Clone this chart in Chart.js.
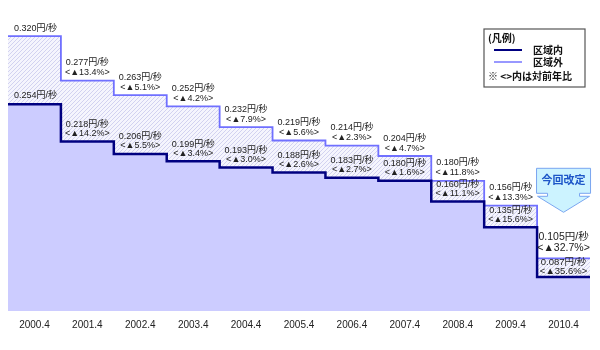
<!DOCTYPE html>
<html>
<head>
<meta charset="utf-8">
<script src="https://cdn.jsdelivr.net/npm/chart.js@4"></script>
<style>
  body { margin: 0; background: #fff; }
  #wrap { width: 600px; height: 350px; }
</style>
</head>
<body>
<div id="wrap"><canvas id="myChart"></canvas></div>
<script>
// 年度 (4月改定)
const years = ['2000.4', '2001.4', '2002.4', '2003.4', '2004.4', '2005.4', '2006.4', '2007.4', '2008.4', '2009.4', '2010.4'];
// 区域外 円/秒
const outsideVals = [0.320, 0.277, 0.263, 0.252, 0.232, 0.219, 0.214, 0.204, 0.180, 0.156, 0.105];
const outsideChg = [null, 13.4, 5.1, 4.2, 7.9, 5.6, 2.3, 4.7, 11.8, 13.3, 32.7];
// 区域内 円/秒
const insideVals = [0.254, 0.218, 0.206, 0.199, 0.193, 0.188, 0.183, 0.180, 0.160, 0.135, 0.087];
const insideChg = [null, 14.2, 5.5, 3.4, 3.0, 2.6, 2.7, 1.6, 11.1, 15.6, 35.6];

const FONT = '"Liberation Sans", "Noto Sans CJK JP", sans-serif';

// step data: one point per year plus a closing point at the right edge
function steps(vals) {
    const pts = vals.map((v, i) => ({ x: i, y: v }));
    pts.push({ x: vals.length, y: vals[vals.length - 1] });
    return pts;
}

// hatch pattern for the area between the two lines
function hatch() {
    const c = document.createElement('canvas');
    c.width = 4; c.height = 4;
    const g = c.getContext('2d');
    g.fillStyle = '#f5f5fd';
    g.fillRect(0, 0, 4, 4);
    g.strokeStyle = '#d2d2f0';
    g.lineWidth = 1;
    g.beginPath();
    g.moveTo(0, 4); g.lineTo(4, 0);
    g.moveTo(-1, 1); g.lineTo(1, -1);
    g.moveTo(3, 5); g.lineTo(5, 3);
    g.stroke();
    return g.createPattern(c, 'repeat');
}

const labelPlugin = {
    id: 'stepLabels',
    afterDatasetsDraw(chart) {
        const ctx = chart.ctx;
        const xs = chart.scales.x, ys = chart.scales.y;
        ctx.save();
        ctx.fillStyle = '#222';
        ctx.textBaseline = 'middle';
        for (let i = 0; i < years.length; i++) {
            const cx = xs.getPixelForValue(i + 0.5);
            const yo = ys.getPixelForValue(outsideVals[i]);
            const yi = ys.getPixelForValue(insideVals[i]);
            if (i === 0) {
                ctx.font = '9px ' + FONT;
                ctx.textAlign = 'left';
                const lx = xs.getPixelForValue(0) + 6;
                ctx.fillText(outsideVals[i].toFixed(3) + '円/秒', lx, yo - 8);
                ctx.fillText(insideVals[i].toFixed(3) + '円/秒', lx, yi - 9);
                continue;
            }
            ctx.textAlign = 'center';
            if (i === years.length - 1) {
                ctx.font = '10.5px ' + FONT;
                ctx.fillText(outsideVals[i].toFixed(3) + '円/秒', cx, yo - 21);
                ctx.fillText('<▲' + outsideChg[i].toFixed(1) + '%>', cx, yo - 10);
                ctx.font = '9.5px ' + FONT;
                ctx.fillText(insideVals[i].toFixed(3) + '円/秒', cx, yi - 15);
                ctx.fillText('<▲' + insideChg[i].toFixed(1) + '%>', cx, yi - 6);
            } else {
                ctx.font = '9px ' + FONT;
                ctx.fillText(outsideVals[i].toFixed(3) + '円/秒', cx, yo - 18);
                ctx.fillText('<▲' + outsideChg[i].toFixed(1) + '%>', cx, yo - 8);
                ctx.fillText(insideVals[i].toFixed(3) + '円/秒', cx, yi - 17);
                ctx.fillText('<▲' + insideChg[i].toFixed(1) + '%>', cx, yi - 8);
            }
        }

        // 今回改定 callout arrow over the last step
        const last = years.length - 1;
        const ax = xs.getPixelForValue(last + 0.5);
        const ay = ys.getPixelForValue(outsideVals[last]);
        const tip = ay - 46;
        ctx.beginPath();
        ctx.moveTo(ax - 27, tip - 44);
        ctx.lineTo(ax + 27, tip - 44);
        ctx.lineTo(ax + 27, tip - 19);
        ctx.lineTo(ax + 16, tip - 19);
        ctx.lineTo(ax + 16, tip - 16);
        ctx.lineTo(ax + 26, tip - 16);
        ctx.lineTo(ax, tip);
        ctx.lineTo(ax - 26, tip - 16);
        ctx.lineTo(ax - 16, tip - 16);
        ctx.lineTo(ax - 16, tip - 19);
        ctx.lineTo(ax - 27, tip - 19);
        ctx.closePath();
        ctx.fillStyle = '#ccf3ff';
        ctx.fill();
        ctx.strokeStyle = '#7aa6f0';
        ctx.lineWidth = 1;
        ctx.stroke();
        ctx.fillStyle = '#1d56c8';
        ctx.font = 'bold 11px "Noto Sans CJK JP", sans-serif';
        ctx.textAlign = 'center';
        ctx.fillText('今回改定', ax, tip - 32);

        // legend box
        const bx = 484, by = 29, bw = 101, bh = 58;
        ctx.fillStyle = '#fff';
        ctx.fillRect(bx, by, bw, bh);
        ctx.strokeStyle = '#555';
        ctx.lineWidth = 1.2;
        ctx.strokeRect(bx, by, bw, bh);
        ctx.fillStyle = '#111';
        ctx.font = 'bold 10px "Noto Sans CJK JP", sans-serif';
        ctx.textAlign = 'left';
        ctx.fillText('(凡例)', bx + 4, by + 9);
        ctx.lineWidth = 2;
        ctx.strokeStyle = '#000080';
        ctx.beginPath(); ctx.moveTo(bx + 10, by + 21); ctx.lineTo(bx + 38, by + 21); ctx.stroke();
        ctx.lineWidth = 1.5;
        ctx.strokeStyle = '#7676ff';
        ctx.beginPath(); ctx.moveTo(bx + 10, by + 33); ctx.lineTo(bx + 38, by + 33); ctx.stroke();
        ctx.fillText('区域内', bx + 49, by + 21);
        ctx.fillText('区域外', bx + 49, by + 33);
        ctx.fillText('※ <>内は対前年比', bx + 4, by + 47);
        ctx.restore();
    }
};

const ctx = document.getElementById('myChart');
const myChart = new Chart(ctx, {
    type: 'line',
    data: {
        datasets: [{
            label: '区域内',
            data: steps(insideVals),
            stepped: true,
            borderColor: '#000080',
            borderWidth: 2.5,
            backgroundColor: '#ccccff',
            fill: 'start',
            pointRadius: 0
        }, {
            label: '区域外',
            data: steps(outsideVals),
            stepped: true,
            borderColor: '#7070ff',
            borderWidth: 1.8,
            backgroundColor: hatch(),
            fill: '-1',
            pointRadius: 0
        }]
    },
    options: {
        responsive: true,
        maintainAspectRatio: false,
        animation: false,
        layout: { padding: { left: 8, right: 10, top: 0, bottom: 0 } },
        plugins: {
            legend: { display: false },
            tooltip: { enabled: false }
        },
        scales: {
            x: {
                type: 'linear',
                min: 0,
                max: years.length,
                grid: { display: false },
                border: { display: false },
                afterBuildTicks(scale) {
                    scale.ticks = years.map((_, i) => ({ value: i + 0.5 }));
                },
                afterFit(scale) {
                    scale.height = 39;
                },
                ticks: {
                    autoSkip: false,
                    maxRotation: 0,
                    padding: 0,
                    color: '#222',
                    font: { size: 10, family: FONT },
                    callback: (v) => years[Math.floor(v)]
                }
            },
            y: {
                display: false,
                min: 0.054,
                max: 0.355
            }
        }
    },
    plugins: [labelPlugin]
});
</script>
</body>
</html>
